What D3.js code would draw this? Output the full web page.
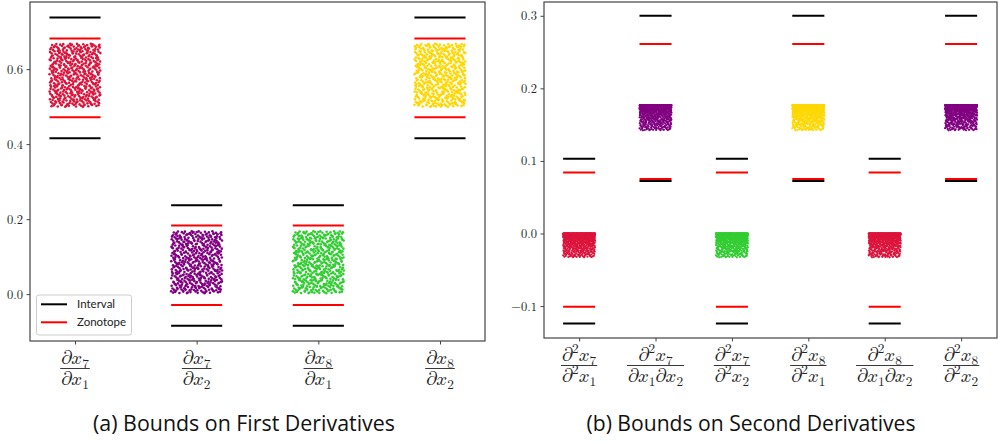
<!DOCTYPE html>
<html>
<head>
<meta charset="utf-8">
<script src="https://cdn.jsdelivr.net/npm/d3@7"></script>
<style>
  body { margin: 0; background: #fff; }
  svg { display: block; }
  .tick text { font-family: 'Latin Modern Math', 'Liberation Serif', serif; font-size: 12.5px; fill: #222; }
  .tick line { stroke: #444; }
</style>
</head>
<body>
<svg width="998" height="444"></svg>
<script>
(function () {
    'use strict'

    // ---- first derivatives (panel a) ----
    const firstNum = ['∂x_7', '∂x_7', '∂x_8', '∂x_8'];
    const firstDen = ['∂x_1', '∂x_2', '∂x_1', '∂x_2'];
    const firstIntervalLo = [0.416, -0.084, -0.084, 0.416];
    const firstIntervalHi = [0.738, 0.237, 0.237, 0.738];
    const firstZonoLo = [0.472, -0.029, -0.029, 0.472];
    const firstZonoHi = [0.682, 0.183, 0.183, 0.682];
    const firstSampleLo = [0.499, 0.002, 0.002, 0.499];
    const firstSampleHi = [0.668, 0.168, 0.168, 0.668];
    const firstColors = ['#dc143c', '#800080', '#32cd32', '#ffd700'];
    const firstTicks = [0.0, 0.2, 0.4, 0.6];

    // ---- second derivatives (panel b) ----
    const secondNum = ['∂^2x_7', '∂^2x_7', '∂^2x_7', '∂^2x_8', '∂^2x_8', '∂^2x_8'];
    const secondDen = ['∂^2x_1', '∂x_1∂x_2', '∂^2x_2', '∂^2x_1', '∂x_1∂x_2', '∂^2x_2'];
    const secondIntervalLo = [-0.124, 0.0725, -0.124, 0.0725, -0.124, 0.0725];
    const secondIntervalHi = [0.103, 0.300, 0.103, 0.300, 0.103, 0.300];
    const secondZonoLo = [-0.101, 0.075, -0.101, 0.075, -0.101, 0.075];
    const secondZonoHi = [0.084, 0.261, 0.084, 0.261, 0.084, 0.261];
    const secondSampleLo = [-0.033, 0.142, -0.033, 0.142, -0.033, 0.142];
    const secondSampleHi = [0.0, 0.177, 0.0, 0.177, 0.0, 0.177];
    const secondColors = ['#dc143c', '#800080', '#32cd32', '#ffd700', '#dc143c', '#800080'];
    const secondTicks = [-0.1, 0.0, 0.1, 0.2, 0.3];

    const legendLabels = ['Interval', 'Zonotope'];
    const legendColors = ['#000000', '#ff0000'];

    const MATH = "'Latin Modern Math', 'Liberation Serif', serif";
    // math-italic glyphs, as TeX sets them
    const GLYPH = { 'x': '\u{1D465}', '∂': '\u{1D715}' };

    let svg = d3.select('svg');

    // deterministic low-discrepancy fill for the sample clouds
    function halton(i, b) {
        let f = 1, r = 0;
        while (i > 0) { f /= b; r += f * (i % b); i = Math.floor(i / b); }
        return r;
    }

    // writes "∂^2x_7" style strings as tspans
    function mathText(text, str, size) {
        let shift = 0;
        for (let k = 0; k < str.length; k++) {
            let c = str[k], dy = 0, fs = size;
            if (c === '_' || c === '^') {
                let t = str[++k];
                let target = c === '_' ? size * 0.2 : -size * 0.4;
                dy = target - shift; shift = target; fs = size * 0.7;
                c = t;
            } else {
                dy = -shift; shift = 0;
            }
            text.append('tspan')
                .attr('dy', dy)
                .style('font-size', fs + 'px')
                .text(GLYPH[c] || c);
        }
    }

    function drawPanel(p) {
        let x = d3.scaleLinear().domain(p.xDomain).range([p.left, p.right]);
        let y = d3.scaleLinear().domain(p.yDomain).range([p.bottom, p.top]);
        let g = svg.append('g');
        let n = p.num.length;
        let idx = d3.range(n);

        // sample clouds
        idx.forEach(function (i) {
            let pts = d3.range(1, p.count + 1).map(function (j) {
                let u = halton(j + i * 37, 2), v = halton(j + i * 37, 3);
                return [i - p.hw + 2 * p.hw * u,
                        p.sampleHi[i] - (p.sampleHi[i] - p.sampleLo[i]) * Math.pow(v, p.skew)];
            });
            g.append('g').selectAll('circle')
                .data(pts)
                .enter()
                .append('circle')
                .attr('cx', d => x(d[0]))
                .attr('cy', d => y(d[1]))
                .attr('r', p.r)
                .style('fill', p.colors[i]);
        });

        // bound lines
        let bounds = [
            [p.intervalLo, '#000000'], [p.intervalHi, '#000000'],
            [p.zonoLo, '#ff0000'], [p.zonoHi, '#ff0000']
        ];
        bounds.forEach(function (b) {
            g.append('g').selectAll('line')
                .data(idx)
                .enter()
                .append('line')
                .attr('x1', i => x(i - p.hw))
                .attr('x2', i => x(i + p.hw))
                .attr('y1', i => y(b[0][i]))
                .attr('y2', i => y(b[0][i]))
                .style('stroke', b[1])
                .style('stroke-width', 2);
        });

        // frame
        g.append('rect')
            .attr('x', p.left).attr('y', p.top)
            .attr('width', p.right - p.left).attr('height', p.bottom - p.top)
            .style('fill', 'none').style('stroke', '#444').style('stroke-width', 1.2);

        g.append('g')
            .attr('transform', 'translate(' + p.left + ',0)')
            .call(d3.axisLeft(y).tickValues(p.ticks).tickFormat(d3.format('.1f'))
                .tickSize(3.5).tickPadding(3.5))
            .call(a => a.select('.domain').remove());

        g.append('g')
            .attr('transform', 'translate(0,' + p.bottom + ')')
            .call(d3.axisBottom(x).tickValues(idx).tickFormat('').tickSize(3.5))
            .call(a => a.select('.domain').remove());

        // fraction labels
        idx.forEach(function (i) {
            let cx = x(i);
            let lg = g.append('g').style('font-family', MATH).style('fill', '#222');
            let tn = lg.append('text').attr('x', cx).attr('y', p.bottom + 23).attr('text-anchor', 'middle');
            mathText(tn, p.num[i], 19);
            let td = lg.append('text').attr('x', cx).attr('y', p.bottom + 44).attr('text-anchor', 'middle');
            mathText(td, p.den[i], 19);
            let w = Math.max(tn.node().getComputedTextLength(), td.node().getComputedTextLength()) + 2;
            lg.append('line')
                .attr('x1', cx - w / 2).attr('x2', cx + w / 2)
                .attr('y1', p.bottom + 27.5).attr('y2', p.bottom + 27.5)
                .style('stroke', '#222').style('stroke-width', 0.9);
        });

        // caption, sized to the reference width
        let cap = svg.append('text')
            .attr('x', p.captionX).attr('y', 431)
            .attr('text-anchor', 'middle')
            .style('font-family', "'Open Sans', sans-serif")
            .style('font-size', '18px')
            .style('fill', '#111')
            .text(p.caption);
        let cw = cap.node().getComputedTextLength();
        cap.style('font-size', (18 * p.captionW / cw) + 'px');

        return { x: x, y: y };
    }

    drawPanel({
        left: 30, right: 485, top: 2, bottom: 341,
        xDomain: [-0.37, 3.37], yDomain: [-0.125, 0.779],
        num: firstNum, den: firstDen,
        intervalLo: firstIntervalLo, intervalHi: firstIntervalHi,
        zonoLo: firstZonoLo, zonoHi: firstZonoHi,
        sampleLo: firstSampleLo, sampleHi: firstSampleHi,
        colors: firstColors, ticks: firstTicks,
        hw: 0.21, count: 500, r: 1.3, skew: 1,
        caption: '(a) Bounds on First Derivatives', captionX: 244, captionW: 302
    });

    drawPanel({
        left: 544, right: 997, top: 2, bottom: 338,
        xDomain: [-0.46, 5.47], yDomain: [-0.144, 0.319],
        num: secondNum, den: secondDen,
        intervalLo: secondIntervalLo, intervalHi: secondIntervalHi,
        zonoLo: secondZonoLo, zonoHi: secondZonoHi,
        sampleLo: secondSampleLo, sampleHi: secondSampleHi,
        colors: secondColors, ticks: secondTicks,
        hw: 0.21, count: 700, r: 1.1, skew: 2.6,
        caption: '(b) Bounds on Second Derivatives', captionX: 751, captionW: 329
    });

    // legend (panel a)
    let leg = svg.append('g');
    leg.append('rect')
        .attr('x', 36.5).attr('y', 295).attr('width', 95).attr('height', 40)
        .attr('rx', 2.5)
        .style('fill', '#fff').style('fill-opacity', 0.8)
        .style('stroke', '#ccc').style('stroke-width', 1);
    legendLabels.forEach(function (l, i) {
        let yy = 304.3 + i * 18;
        leg.append('line')
            .attr('x1', 41).attr('x2', 67).attr('y1', yy).attr('y2', yy)
            .style('stroke', legendColors[i]).style('stroke-width', 2);
        leg.append('text')
            .attr('x', 77).attr('y', yy + 4)
            .style('font-family', "Lato, sans-serif").style('font-size', '11.5px').style('fill', '#222')
            .text(l);
    });
})();
</script>
</body>
</html>
